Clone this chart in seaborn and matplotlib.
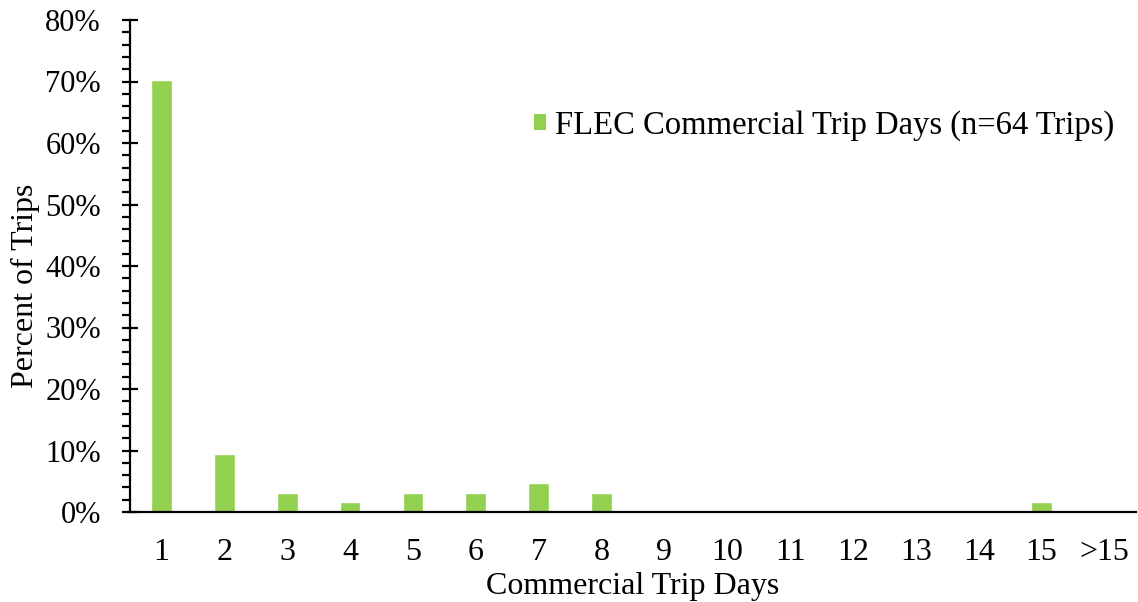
import matplotlib
matplotlib.use("Agg")
import matplotlib.pyplot as plt
import seaborn as sns
import pandas as pd
from matplotlib.patches import Patch
from matplotlib.ticker import MultipleLocator, FuncFormatter

# --- datos ---
DAY_LABELS = ['1', '2', '3', '4', '5', '6', '7', '8', '9', '10',
              '11', '12', '13', '14', '15', '>15']
PCT_TRIPS = [70.3, 9.4, 3.1, 1.6, 3.1, 3.1, 4.7, 3.1, 0, 0,
             0, 0, 0, 0, 1.6, 0]
SERIES_NAME = 'FLEC Commercial Trip Days (n=64 Trips)'
BAR_COLOR = '#92D050'

sns.set_theme(style='white')
plt.rcParams['font.family'] = ['Liberation Serif', 'DejaVu Serif']
plt.rcParams['text.color'] = 'black'
plt.rcParams['axes.labelcolor'] = 'black'
plt.rcParams['xtick.color'] = 'black'
plt.rcParams['ytick.color'] = 'black'

df = pd.DataFrame({'days': DAY_LABELS, 'pct': PCT_TRIPS})

fig = plt.figure(figsize=(11.38, 6.02), dpi=100)
ax = fig.add_axes([130 / 1138, 1 - 512 / 602, (1136 - 130) / 1138, (512 - 20) / 602])

sns.barplot(data=df, x='days', y='pct', order=DAY_LABELS, color=BAR_COLOR,
            saturation=1, width=0.33, ax=ax)

ax.set_xlim(-0.5, len(DAY_LABELS) - 0.5)
ax.set_ylim(0, 80)

# ejes al estilo Excel
for side in ['top', 'right']:
    ax.spines[side].set_visible(False)
for side in ['left', 'bottom']:
    ax.spines[side].set_linewidth(1.6)
    ax.spines[side].set_color('black')

ax.set_xticks(list(range(len(DAY_LABELS))) + [len(DAY_LABELS) - 0.5])
ax.set_xticklabels(DAY_LABELS + [''])
ax.yaxis.set_major_locator(MultipleLocator(10))
ax.yaxis.set_minor_locator(MultipleLocator(2))
ax.yaxis.set_major_formatter(FuncFormatter(lambda v, p: f'{v:.0f}%'))

ax.tick_params(axis='x', which='major', direction='inout', length=11, width=1.6,
               color='black', labelsize=23, pad=13, labelcolor='black')
ax.tick_params(axis='y', which='major', direction='inout', length=12, width=1.6,
               color='black', labelsize=22, pad=15, left=True, labelcolor='black')
ax.tick_params(axis='y', which='minor', direction='out', length=5.5, width=1.6,
               color='black', left=True)

ax.set_xlabel('Commercial Trip Days', fontsize=23, labelpad=4, color='black')
ax.set_ylabel('Percent of Trips', fontsize=23, color='black')
ax.yaxis.set_label_coords(-0.089, 0.46)

handle = Patch(facecolor=BAR_COLOR, edgecolor='none')
ax.legend([handle], [SERIES_NAME], loc='center right', bbox_to_anchor=(1.008, 0.785),
          frameon=False, fontsize=23.5, handlelength=0.36, handleheight=0.36,
          handletextpad=0.3, labelcolor='black')

fig.savefig('out.png', dpi=100)
